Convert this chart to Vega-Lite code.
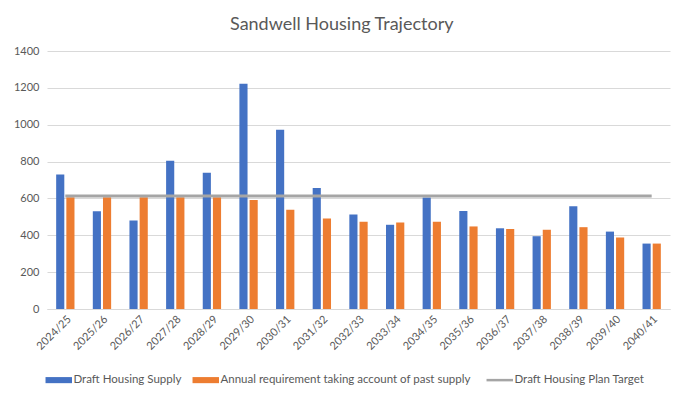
{
  "$schema": "https://vega.github.io/schema/vega-lite/v6.json",
  "width": 623,
  "height": 258,
  "padding": {"left": 13, "top": 16, "right": 17, "bottom": 5},
  "background": "white",
  "title": {
    "text": "Sandwell Housing Trajectory",
    "fontSize": 18,
    "fontWeight": "normal",
    "font": "Lato",
    "color": "#595959",
    "anchor": "middle",
    "frame": "bounds",
    "offset": 11
  },
  "data": {
    "values": [
      {"year": "2024/25", "series": "Draft Housing Supply", "value": 730},
      {"year": "2025/26", "series": "Draft Housing Supply", "value": 530},
      {"year": "2026/27", "series": "Draft Housing Supply", "value": 480},
      {"year": "2027/28", "series": "Draft Housing Supply", "value": 805},
      {"year": "2028/29", "series": "Draft Housing Supply", "value": 740},
      {"year": "2029/30", "series": "Draft Housing Supply", "value": 1222},
      {"year": "2030/31", "series": "Draft Housing Supply", "value": 973},
      {"year": "2031/32", "series": "Draft Housing Supply", "value": 656},
      {"year": "2032/33", "series": "Draft Housing Supply", "value": 513},
      {"year": "2033/34", "series": "Draft Housing Supply", "value": 457},
      {"year": "2034/35", "series": "Draft Housing Supply", "value": 605},
      {"year": "2035/36", "series": "Draft Housing Supply", "value": 532},
      {"year": "2036/37", "series": "Draft Housing Supply", "value": 438},
      {"year": "2037/38", "series": "Draft Housing Supply", "value": 395},
      {"year": "2038/39", "series": "Draft Housing Supply", "value": 557},
      {"year": "2039/40", "series": "Draft Housing Supply", "value": 420},
      {"year": "2040/41", "series": "Draft Housing Supply", "value": 355},
      {"year": "2024/25", "series": "Annual requirement taking account of past supply", "value": 607},
      {"year": "2025/26", "series": "Annual requirement taking account of past supply", "value": 607},
      {"year": "2026/27", "series": "Annual requirement taking account of past supply", "value": 607},
      {"year": "2027/28", "series": "Annual requirement taking account of past supply", "value": 607},
      {"year": "2028/29", "series": "Annual requirement taking account of past supply", "value": 607},
      {"year": "2029/30", "series": "Annual requirement taking account of past supply", "value": 592},
      {"year": "2030/31", "series": "Annual requirement taking account of past supply", "value": 538},
      {"year": "2031/32", "series": "Annual requirement taking account of past supply", "value": 491},
      {"year": "2032/33", "series": "Annual requirement taking account of past supply", "value": 474},
      {"year": "2033/34", "series": "Annual requirement taking account of past supply", "value": 470},
      {"year": "2034/35", "series": "Annual requirement taking account of past supply", "value": 474},
      {"year": "2035/36", "series": "Annual requirement taking account of past supply", "value": 448},
      {"year": "2036/37", "series": "Annual requirement taking account of past supply", "value": 434},
      {"year": "2037/38", "series": "Annual requirement taking account of past supply", "value": 430},
      {"year": "2038/39", "series": "Annual requirement taking account of past supply", "value": 444},
      {"year": "2039/40", "series": "Annual requirement taking account of past supply", "value": 388},
      {"year": "2040/41", "series": "Annual requirement taking account of past supply", "value": 355},
      {"year": "2024/25", "series": "Draft Housing Plan Target", "value": 613},
      {"year": "2025/26", "series": "Draft Housing Plan Target", "value": 613},
      {"year": "2026/27", "series": "Draft Housing Plan Target", "value": 613},
      {"year": "2027/28", "series": "Draft Housing Plan Target", "value": 613},
      {"year": "2028/29", "series": "Draft Housing Plan Target", "value": 613},
      {"year": "2029/30", "series": "Draft Housing Plan Target", "value": 613},
      {"year": "2030/31", "series": "Draft Housing Plan Target", "value": 613},
      {"year": "2031/32", "series": "Draft Housing Plan Target", "value": 613},
      {"year": "2032/33", "series": "Draft Housing Plan Target", "value": 613},
      {"year": "2033/34", "series": "Draft Housing Plan Target", "value": 613},
      {"year": "2034/35", "series": "Draft Housing Plan Target", "value": 613},
      {"year": "2035/36", "series": "Draft Housing Plan Target", "value": 613},
      {"year": "2036/37", "series": "Draft Housing Plan Target", "value": 613},
      {"year": "2037/38", "series": "Draft Housing Plan Target", "value": 613},
      {"year": "2038/39", "series": "Draft Housing Plan Target", "value": 613},
      {"year": "2039/40", "series": "Draft Housing Plan Target", "value": 613},
      {"year": "2040/41", "series": "Draft Housing Plan Target", "value": 613}
    ]
  },
  "encoding": {
    "x": {
      "field": "year",
      "type": "nominal",
      "sort": null,
      "title": null,
      "scale": {"paddingInner": 0.5, "paddingOuter": 0.25},
      "axis": {
        "labelAngle": -45,
        "labelAlign": "right",
        "labelBaseline": "top",
        "ticks": false,
        "domainColor": "#D9D9D9",
        "labelPadding": 4
      }
    },
    "y": {
      "field": "value",
      "type": "quantitative",
      "title": null,
      "scale": {"domain": [0, 1400]},
      "axis": {
        "values": [0, 200, 400, 600, 800, 1000, 1200, 1400],
        "format": "d",
        "domain": false,
        "ticks": false,
        "labelPadding": 8,
        "gridColor": "#D9D9D9"
      }
    },
    "color": {
      "field": "series",
      "type": "nominal",
      "title": null,
      "scale": {
        "domain": ["Draft Housing Supply", "Annual requirement taking account of past supply", "Draft Housing Plan Target"],
        "range": ["#4472C4", "#ED7D31", "#A5A5A5"]
      },
      "legend": {
        "orient": "none",
        "legendX": 6,
        "legendY": 323,
        "direction": "horizontal",
        "labelFontSize": 11.5,
        "labelLimit": 400,
        "columnPadding": 10,
        "symbolSize": 700,
        "labelOffset": 9,
        "encode": {
          "symbols": {
            "update": {
              "shape": {"signal": "datum.value === 'Draft Housing Plan Target' ? 'M-1,0H1' : 'M-1,-0.23H1V0.23H-1Z'"},
              "fill": {"scale": "color", "field": "value"},
              "stroke": {"scale": "color", "field": "value"},
              "strokeWidth": {"signal": "datum.value === 'Draft Housing Plan Target' ? 2.5 : 0"},
              "fillOpacity": {"value": 1},
              "opacity": {"value": 1}
            }
          }
        }
      }
    }
  },
  "layer": [
    {
      "transform": [{"filter": "datum.series !== 'Draft Housing Plan Target'"}],
      "mark": {"type": "bar"},
      "encoding": {
        "xOffset": {
          "field": "series",
          "type": "nominal",
          "sort": ["Draft Housing Supply", "Annual requirement taking account of past supply"],
          "scale": {"paddingInner": 0.2}
        }
      }
    },
    {
      "transform": [{"filter": "datum.series === 'Draft Housing Plan Target'"}],
      "mark": {"type": "line", "strokeWidth": 3}
    }
  ],
  "config": {
    "font": "Lato",
    "view": {"stroke": null},
    "axis": {
      "labelColor": "#595959",
      "labelFontSize": 11,
      "labelFont": "Lato"
    },
    "legend": {
      "labelColor": "#595959",
      "labelFont": "Lato"
    }
  }
}
